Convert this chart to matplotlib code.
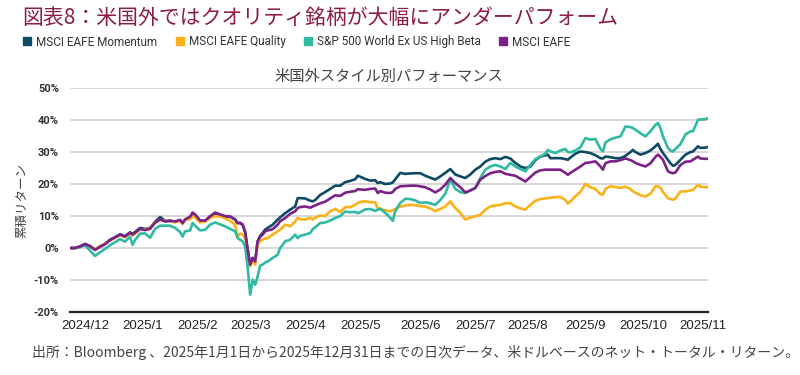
import matplotlib
matplotlib.use("Agg")
import matplotlib.pyplot as plt
from matplotlib.lines import Line2D

plt.rcParams['font.family'] = ['Noto Sans CJK JP', 'DejaVu Sans']

# trading-day index (approx.) and cumulative returns in %
day = [0, 2, 4, 6, 8, 10, 12, 14, 16, 18, 20, 22, 24, 25, 26, 28, 30, 32, 34, 36,
       38, 40, 42, 44, 45, 46, 48, 49, 50, 52, 54, 56, 58, 60, 62, 64, 66, 67, 68, 69,
       70, 71, 72, 73, 74, 75, 76, 77, 78, 79, 81, 83, 84, 86, 88, 90, 91, 92, 94, 96,
       97, 98, 100, 102, 104, 106, 108, 110, 112, 114, 115, 116, 118, 120, 122, 123, 124, 126, 128, 129,
       130, 132, 134, 136, 138, 140, 142, 144, 146, 148, 150, 152, 154, 156, 158, 160, 162, 164, 166, 168,
       170, 172, 174, 176, 178, 180, 182, 184, 186, 188, 190, 191, 192, 194, 196, 198, 199, 200, 202, 204,
       206, 208, 210, 212, 213, 214, 216, 218, 220, 222, 224, 225, 226, 228, 230, 232, 234, 235, 236, 237,
       239, 240, 241, 242, 244, 246, 248, 249, 251, 252, 254, 255]

momentum = [0, 0, 0.5, 1.3, 0.6, -0.5, 0.5, 1.3, 2.6, 3.4, 4.3, 3.7, 4.9, 4.5, 5.0, 6.3, 6.0, 6.3, 8.2, 9.7,
            8.5, 8.4, 8.3, 8.6, 7.8, 8.9, 9.5, 10.7, 10.3, 8.5, 8.3, 9.9, 10.8, 10.2, 9.6, 9.8, 8.9, 7.8, 7.9, 7.3,
            5.0, -0.5, -5.2, -3.1, -4.2, 2.1, 3.8, 4.7, 5.8, 6.3, 7.3, 8.9, 9.6, 10.9, 12.0, 13.0, 15.6, 15.6, 15.5, 14.8,
            14.6, 15.0, 16.6, 17.5, 18.5, 19.5, 19.5, 20.6, 21.0, 21.5, 22.6, 22.3, 21.6, 21.1, 21.2, 20.3, 20.6, 20.0, 20.2, 20.5,
            21.5, 23.5, 23.2, 23.3, 23.4, 23.4, 22.6, 22.0, 21.4, 22.4, 23.5, 24.7, 23.0, 22.4, 21.9, 23.0, 24.5, 25.5, 27.0, 27.8,
            28.1, 27.8, 28.5, 28.0, 26.6, 25.5, 25.0, 25.5, 27.5, 28.6, 29.0, 29.2, 28.1, 28.1, 28.1, 27.8, 27.6, 28.3, 29.5, 30.2,
            30.0, 29.7, 29.0, 28.1, 28.0, 28.6, 28.4, 28.1, 28.1, 28.8, 30.0, 30.7, 30.0, 29.2, 29.7, 30.5, 31.8, 32.6, 31.0, 29.7,
            27.6, 26.5, 25.7, 26.0, 27.6, 29.2, 30.0, 30.2, 31.8, 31.3, 31.4, 31.6]

quality = [0, 0, 0.3, 1.1, 0.5, -0.4, 0.6, 1.4, 2.3, 3.2, 4.0, 3.4, 4.6, 4.0, 4.5, 5.8, 5.8, 6.2, 8.0, 8.8,
           8.5, 8.5, 8.0, 8.5, 7.5, 9.0, 9.0, 9.9, 9.6, 8.0, 8.3, 9.4, 10.0, 9.8, 9.3, 8.5, 7.3, 3.6, 4.5, 4.2,
           3.0, -1.0, -5.7, -3.6, -5.2, 1.0, 2.2, 2.6, 3.0, 3.1, 4.2, 5.2, 5.7, 7.3, 6.8, 8.3, 9.4, 9.0, 8.9, 9.5,
           8.9, 9.5, 10.2, 10.0, 11.5, 12.2, 11.3, 12.8, 12.8, 13.5, 14.1, 14.4, 14.6, 14.3, 14.3, 12.5, 12.2, 11.8, 11.5, 11.8,
           12.2, 13.0, 13.3, 13.5, 13.4, 13.1, 13.0, 12.4, 11.5, 12.2, 13.0, 14.6, 12.5, 11.0, 8.9, 9.5, 9.9, 10.4, 12.0, 13.0,
           13.3, 13.5, 14.0, 14.0, 13.0, 12.4, 12.0, 13.5, 14.8, 15.3, 15.5, 15.6, 15.8, 15.9, 16.0, 15.0, 13.9, 14.5, 16.2, 17.5,
           20.1, 19.0, 18.5, 16.8, 16.7, 18.5, 19.3, 19.1, 18.8, 19.2, 18.5, 17.7, 17.3, 16.5, 16.1, 17.0, 19.3, 19.3, 18.8, 17.5,
           15.6, 15.3, 15.1, 15.5, 17.7, 17.7, 18.0, 18.2, 19.8, 19.2, 19.0, 19.1]

high_beta = [0, 0, 0.3, 0.9, -0.8, -2.5, -1.3, -0.3, 0.9, 1.8, 2.8, 2.0, 3.5, 1.0, 2.5, 4.5, 4.6, 3.2, 6.0, 7.0,
             7.0, 7.0, 6.3, 5.0, 3.6, 5.2, 5.5, 7.8, 7.0, 5.5, 5.7, 7.3, 8.0, 7.4, 6.8, 6.0, 5.2, 3.1, 2.6, 2.1,
             0.5, -6.0, -14.6, -9.9, -11.5, -8.9, -5.5, -5.2, -4.5, -4.2, -3.1, -2.1, 0.0, 2.1, 2.6, 4.2, 3.1, 3.8, 4.2, 4.7,
             5.9, 6.5, 7.8, 8.0, 8.6, 9.4, 10.0, 11.4, 11.2, 11.3, 10.9, 11.2, 12.1, 12.2, 11.6, 12.0, 12.3, 11.0, 9.5, 8.5,
             11.5, 14.1, 15.4, 15.3, 14.9, 14.1, 14.3, 14.0, 13.5, 15.0, 17.0, 21.4, 18.5, 17.5, 17.2, 18.0, 18.8, 21.9, 24.5, 25.5,
             26.0, 25.5, 24.7, 26.6, 25.5, 24.7, 24.0, 26.0, 27.8, 28.6, 29.5, 30.7, 30.2, 29.7, 30.5, 31.0, 30.0, 29.9, 30.5, 31.5,
             34.4, 33.9, 34.1, 31.0, 30.2, 33.0, 34.0, 34.5, 34.9, 38.0, 37.8, 37.5, 37.0, 35.9, 34.9, 36.5, 38.5, 39.1, 37.5, 34.9,
             31.3, 30.5, 30.2, 31.0, 32.5, 35.5, 36.5, 36.5, 40.1, 40.2, 40.3, 40.6]

eafe = [0, 0, 0.5, 1.2, 0.6, -0.6, 0.4, 1.2, 2.5, 3.3, 4.2, 3.6, 4.8, 4.2, 4.8, 6.0, 5.6, 6.0, 7.9, 9.0,
        8.3, 8.6, 8.3, 8.8, 7.8, 8.9, 9.8, 11.1, 10.5, 8.6, 8.6, 9.9, 11.1, 10.5, 10.0, 9.9, 8.9, 7.8, 7.8, 7.3,
        5.0, -0.5, -5.2, -3.1, -4.2, 2.1, 3.5, 4.2, 5.2, 5.5, 5.9, 7.3, 8.4, 9.4, 10.7, 11.5, 12.5, 12.8, 13.0, 12.6,
        13.0, 13.3, 14.0, 14.5, 15.5, 16.5, 16.3, 17.3, 17.6, 17.8, 18.4, 18.3, 18.2, 18.5, 18.6, 17.2, 17.8, 17.3, 17.2, 17.5,
        18.5, 19.3, 19.4, 19.5, 19.5, 19.3, 19.0, 18.3, 17.4, 18.3, 19.8, 21.9, 20.3, 19.0, 17.4, 18.0, 18.8, 21.4, 22.5, 23.4,
        23.8, 24.0, 23.2, 22.9, 22.6, 21.7, 20.8, 22.2, 23.6, 24.3, 24.5, 24.5, 24.5, 24.5, 24.5, 23.5, 22.9, 23.5, 24.5, 25.5,
        26.6, 26.8, 27.1, 25.5, 24.5, 26.5, 27.1, 27.1, 27.5, 28.0, 27.5, 27.1, 26.6, 26.0, 25.5, 26.5, 28.5, 29.2, 28.5, 27.6,
        24.0, 23.6, 23.4, 23.6, 26.0, 27.0, 27.1, 27.6, 28.6, 28.0, 27.9, 27.9]

series_names = ['MSCI EAFE Momentum', 'MSCI EAFE Quality',
                'S&P 500 World Ex US High Beta', 'MSCI EAFE']
colors = ['#0E4A63', '#FBB117', '#30B9A3', '#7B2188']

month_labels = ['2024/12', '2025/1', '2025/2', '2025/3', '2025/4', '2025/5',
                '2025/6', '2025/7', '2025/8', '2025/9', '2025/10', '2025/11']
month_pos = [6, 29, 51, 72, 94, 116, 140, 162, 183, 206, 229, 253]
y_ticks = [-20, -10, 0, 10, 20, 30, 40, 50]

fig = plt.figure(figsize=(8, 3.75), dpi=100)
ax = fig.add_axes([0.0875, 0.168, 0.7975, 0.597])

for vals, c in zip([momentum, quality, high_beta, eafe], colors):
    ax.plot(day, vals, color=c, linewidth=1.9, solid_joinstyle='round')

ax.set_xlim(0, 255)
ax.set_ylim(-20, 50)
ax.set_yticks(y_ticks)
ax.set_yticklabels([f'{v}%' for v in y_ticks], fontsize=8, fontweight='bold',
                   color='#333333', family=['Roboto', 'DejaVu Sans'])
ax.set_xticks(month_pos)
ax.set_xticklabels(month_labels, fontsize=9.5, color='#222222',
                   family=['Liberation Sans', 'DejaVu Sans'])
ax.tick_params(axis='both', length=0)
ax.tick_params(axis='y', pad=8)
ax.tick_params(axis='x', pad=6)
ax.grid(axis='y', color='#d4d4d4', linewidth=1.3)
ax.set_axisbelow(True)
for s in ['top', 'right', 'left']:
    ax.spines[s].set_visible(False)
ax.spines['bottom'].set_color('#222222')
ax.spines['bottom'].set_linewidth(1.6)
ax.spines['bottom'].set_zorder(5)

ax.set_ylabel('累積リターン', fontsize=9, color='#444444', labelpad=4)
ax.set_title('米国外スタイル別パフォーマンス', fontsize=11, color='#444444', pad=5)

fig.text(0.028, 0.952, '図表8：米国外ではクオリティ銘柄が大幅にアンダーパフォーム',
         fontsize=15, color='#8C1D40', va='center', ha='left')

handles = [Line2D([], [], marker='s', linestyle='none', markersize=6,
                  markerfacecolor=c, markeredgecolor=c) for c in colors]
fig.legend(handles, series_names, loc='center left', bbox_to_anchor=(0.015, 0.888),
           ncol=4, frameon=False, handletextpad=0.35, columnspacing=1.5,
           handlelength=0.8, prop={'family': ['Roboto', 'DejaVu Sans'], 'size': 8.5},
           labelcolor='#333333')

fig.text(0.04, 0.06,
         '出所：Bloomberg 、2025年1月1日から2025年12月31日までの日次データ、米ドルベースのネット・トータル・リターン。',
         fontsize=10, color='#444444', va='center', ha='left')

fig.savefig('out.png', dpi=100)
